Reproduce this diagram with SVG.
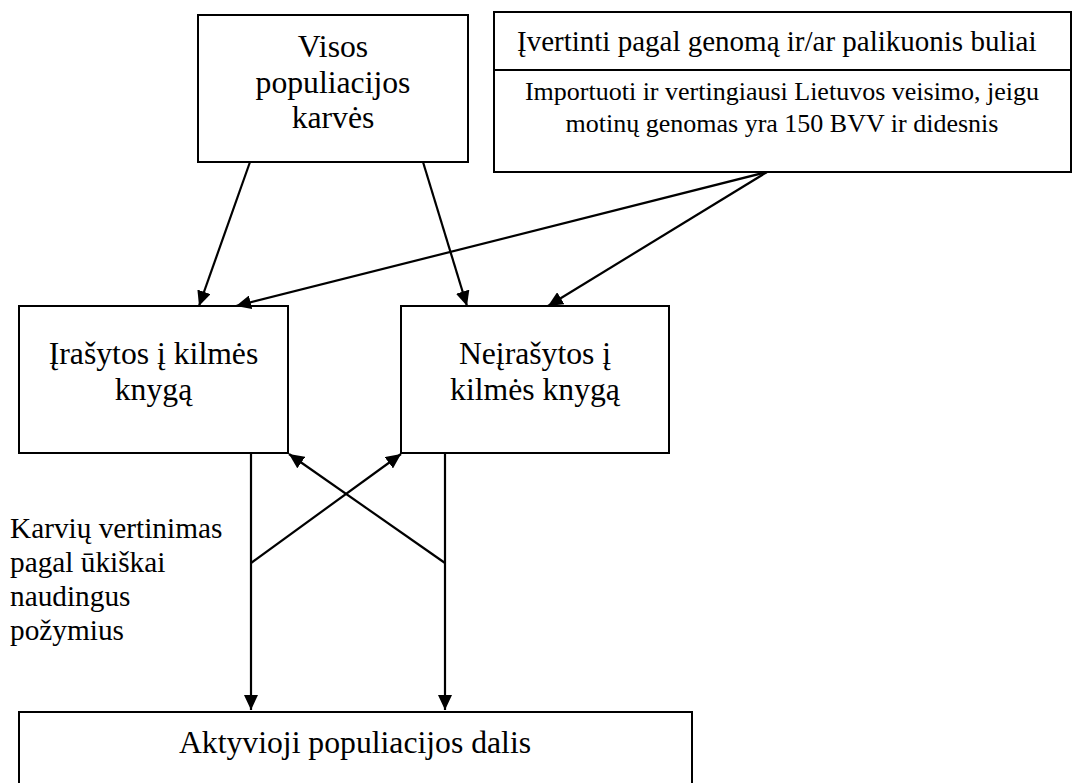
<svg xmlns="http://www.w3.org/2000/svg" width="1073" height="783" viewBox="0 0 1073 783">
<style>
.box{fill:#fff;stroke:#000;stroke-width:2}
text{font-family:'Liberation Serif','DejaVu Serif','Times New Roman',serif;fill:#000}
.n{font-size:31.7px;text-anchor:middle}
.c{stroke:#000;stroke-width:2.2;fill:none;marker-end:url(#ah)}
</style>
<defs>
<marker id="ah" markerUnits="userSpaceOnUse" markerWidth="16" markerHeight="14" refX="15" refY="7" orient="auto">
<path d="M0,0 L15,7 L0,14 z" fill="#000"/>
</marker>
</defs>
<rect width="1073" height="783" fill="#fff"/>
<g id="node-visos">
<rect class="box" x="198" y="15" width="270" height="147"/>
<text class="n" x="333" y="57">Visos</text>
<text class="n" x="333" y="93">populiacijos</text>
<text class="n" x="333" y="128">karvės</text>
</g>
<g id="node-buliai">
<rect class="box" x="494" y="12" width="577" height="160"/>
<line x1="494" y1="70" x2="1071" y2="70" stroke="#000" stroke-width="2"/>
<text x="517" y="51" font-size="29">Įvertinti pagal genomą ir/ar palikuonis buliai</text>
<text x="782" y="100" font-size="26" text-anchor="middle">Importuoti ir vertingiausi Lietuvos veisimo, jeigu</text>
<text x="782" y="132" font-size="26" text-anchor="middle">motinų genomas yra 150 BVV ir didesnis</text>
</g>
<g id="node-irasytos">
<rect class="box" x="19" y="306" width="269" height="147"/>
<text class="n" x="153.5" y="364">Įrašytos į kilmės</text>
<text class="n" x="153.5" y="400">knygą</text>
</g>
<g id="node-neirasytos">
<rect class="box" x="401" y="306" width="268" height="147"/>
<text class="n" x="535" y="364">Neįrašytos į</text>
<text class="n" x="535" y="400">kilmės knygą</text>
</g>
<g id="node-aktyvioji">
<rect class="box" x="19" y="712" width="673" height="100"/>
<text class="n" x="355" y="753">Aktyvioji populiacijos dalis</text>
</g>
<g id="label-vertinimas">
<text x="10" y="538" font-size="29.3">Karvių vertinimas</text>
<text x="10" y="572" font-size="29.3">pagal ūkiškai</text>
<text x="10" y="606" font-size="29.3">naudingus</text>
<text x="10" y="640" font-size="29.3">požymius</text>
</g>
<g id="connectors">
<line class="c" x1="250" y1="162" x2="199" y2="306"/>
<line class="c" x1="423" y1="162" x2="467" y2="306"/>
<line class="c" x1="767" y1="172" x2="236" y2="306"/>
<line class="c" x1="767" y1="172" x2="548" y2="306"/>
<line class="c" x1="251" y1="453" x2="251" y2="710"/>
<line class="c" x1="445" y1="453" x2="445" y2="710"/>
<line class="c" x1="251" y1="563" x2="401" y2="454"/>
<line class="c" x1="445" y1="563" x2="289" y2="454"/>
</g>
</svg>
